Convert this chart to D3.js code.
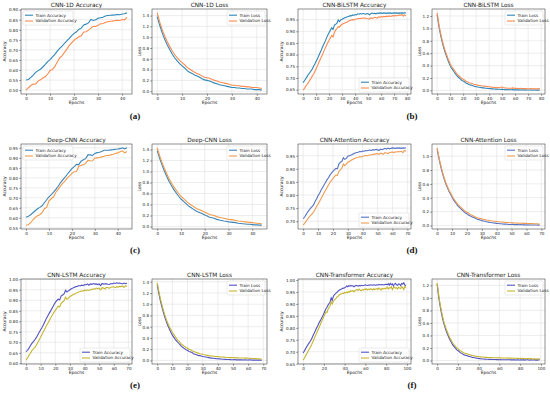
<!DOCTYPE html>
<html><head><meta charset="utf-8">
<script src="https://cdn.jsdelivr.net/npm/d3@7"></script>
<style>body{margin:0;background:#fff}svg{display:block}</style>
</head><body><svg id="c" width="550" height="397"></svg>
<script>
// ---------- DATA ----------
const accTrainA=[0.550,0.553,0.563,0.575,0.588,0.597,0.604,0.615,0.628,0.642,0.652,0.665,0.678,0.694,0.707,0.719,0.733,0.745,0.757,0.771,0.782,0.790,0.803,0.808,0.824,0.828,0.834,0.851,0.846,0.850,0.857,0.860,0.862,0.868,0.871,0.872,0.873,0.874,0.876,0.875,0.878,0.880,0.884];
const accValA=[0.500,0.512,0.523,0.530,0.531,0.545,0.552,0.560,0.566,0.580,0.598,0.602,0.618,0.640,0.660,0.670,0.688,0.704,0.722,0.735,0.748,0.757,0.765,0.770,0.789,0.790,0.798,0.808,0.817,0.816,0.822,0.830,0.831,0.836,0.840,0.842,0.843,0.846,0.847,0.846,0.851,0.849,0.862];
const lossTrainA=[1.38,1.22,1.08,0.96,0.86,0.77,0.69,0.62,0.56,0.51,0.47,0.43,0.38,0.35,0.33,0.30,0.28,0.26,0.23,0.21,0.20,0.19,0.17,0.15,0.14,0.12,0.11,0.10,0.09,0.08,0.07,0.07,0.06,0.06,0.05,0.05,0.04,0.04,0.04,0.03,0.03,0.03,0.02];
const lossValA=[1.45,1.28,1.14,1.02,0.92,0.83,0.75,0.68,0.62,0.57,0.53,0.49,0.44,0.41,0.38,0.35,0.33,0.31,0.28,0.26,0.25,0.24,0.22,0.20,0.19,0.17,0.16,0.15,0.14,0.13,0.11,0.11,0.10,0.10,0.09,0.09,0.08,0.08,0.07,0.07,0.07,0.06,0.05];

const accTrainB=[0.680,0.688,0.697,0.706,0.715,0.722,0.730,0.738,0.750,0.760,0.772,0.782,0.795,0.808,0.820,0.834,0.846,0.858,0.872,0.884,0.895,0.905,0.915,0.908,0.926,0.930,0.935,0.948,0.942,0.950,0.952,0.955,0.958,0.960,0.962,0.963,0.967,0.966,0.970,0.968,0.972,0.970,0.975,0.973,0.976,0.974,0.976,0.975,0.973,0.976,0.975,0.971,0.975,0.978,0.976,0.977,0.975,0.978,0.977,0.979,0.978,0.977,0.979,0.978,0.977,0.979,0.978,0.979,0.977,0.978,0.979,0.978,0.979,0.977,0.979,0.978,0.979,0.978,0.979,0.979];
const accValB=[0.648,0.655,0.665,0.672,0.680,0.690,0.698,0.708,0.716,0.728,0.740,0.752,0.765,0.778,0.790,0.802,0.815,0.828,0.840,0.852,0.862,0.872,0.882,0.876,0.895,0.905,0.912,0.920,0.918,0.926,0.930,0.933,0.936,0.938,0.940,0.944,0.946,0.948,0.950,0.949,0.952,0.953,0.955,0.954,0.956,0.955,0.958,0.956,0.957,0.955,0.954,0.952,0.958,0.955,0.957,0.960,0.958,0.956,0.962,0.960,0.963,0.961,0.964,0.962,0.965,0.963,0.966,0.964,0.965,0.967,0.966,0.968,0.966,0.969,0.970,0.968,0.972,0.965,0.970,0.967];
const lossTrainB=[1.22,1.08,0.96,0.86,0.77,0.69,0.62,0.56,0.50,0.45,0.40,0.36,0.33,0.30,0.27,0.24,0.22,0.20,0.18,0.16,0.15,0.14,0.12,0.11,0.10,0.09,0.085,0.08,0.07,0.065,0.06,0.055,0.05,0.05,0.045,0.04,0.04,0.035,0.035,0.03,0.03,0.028,0.025,0.025,0.022,0.02,0.02,0.018,0.018,0.015,0.02,0.015,0.012,0.012,0.01,0.012,0.01,0.01,0.012,0.008,0.01,0.008,0.01,0.008,0.006,0.008,0.006,0.008,0.005,0.006,0.005,0.006,0.005,0.004,0.006,0.005,0.004,0.005,0.004,0.005];
const lossValB=[1.25,1.11,0.99,0.89,0.80,0.72,0.65,0.59,0.53,0.48,0.43,0.39,0.36,0.33,0.30,0.27,0.25,0.23,0.21,0.19,0.18,0.17,0.15,0.14,0.13,0.12,0.115,0.11,0.10,0.095,0.09,0.085,0.08,0.078,0.075,0.07,0.068,0.065,0.062,0.06,0.058,0.055,0.052,0.05,0.048,0.046,0.045,0.044,0.042,0.05,0.055,0.045,0.04,0.038,0.036,0.035,0.034,0.035,0.04,0.036,0.033,0.032,0.031,0.03,0.032,0.03,0.029,0.028,0.03,0.028,0.027,0.026,0.028,0.026,0.025,0.026,0.024,0.025,0.03,0.025];

const accTrainC=[0.603,0.607,0.615,0.625,0.635,0.645,0.652,0.660,0.675,0.690,0.705,0.716,0.728,0.742,0.758,0.775,0.790,0.803,0.818,0.832,0.846,0.856,0.867,0.866,0.883,0.890,0.896,0.915,0.915,0.912,0.922,0.926,0.928,0.932,0.938,0.938,0.938,0.940,0.941,0.943,0.944,0.946,0.950,0.945,0.950];
const accValC=[0.563,0.565,0.575,0.590,0.602,0.610,0.615,0.625,0.645,0.652,0.685,0.695,0.705,0.728,0.742,0.758,0.772,0.785,0.800,0.810,0.822,0.830,0.832,0.858,0.862,0.866,0.872,0.888,0.884,0.885,0.898,0.900,0.902,0.905,0.908,0.912,0.912,0.915,0.918,0.922,0.925,0.930,0.935,0.925,0.932];
const lossTrainC=[1.38,1.24,1.12,1.01,0.91,0.82,0.74,0.67,0.61,0.55,0.50,0.46,0.42,0.38,0.35,0.32,0.29,0.27,0.25,0.23,0.21,0.19,0.17,0.16,0.15,0.13,0.12,0.11,0.10,0.095,0.085,0.08,0.075,0.07,0.06,0.055,0.05,0.045,0.04,0.04,0.035,0.03,0.03,0.025,0.025];
const lossValC=[1.43,1.29,1.17,1.06,0.96,0.87,0.79,0.72,0.66,0.60,0.55,0.51,0.47,0.43,0.40,0.37,0.34,0.32,0.30,0.28,0.26,0.24,0.22,0.21,0.20,0.18,0.17,0.16,0.15,0.14,0.13,0.125,0.12,0.11,0.10,0.095,0.09,0.085,0.08,0.075,0.07,0.065,0.06,0.055,0.05];

const accTrainD=[0.710,0.716,0.725,0.735,0.742,0.750,0.756,0.762,0.775,0.785,0.797,0.806,0.818,0.828,0.838,0.848,0.858,0.866,0.876,0.884,0.890,0.896,0.902,0.900,0.918,0.925,0.928,0.942,0.936,0.940,0.948,0.950,0.952,0.955,0.958,0.960,0.962,0.963,0.966,0.965,0.968,0.967,0.970,0.969,0.971,0.972,0.970,0.973,0.972,0.974,0.973,0.970,0.975,0.973,0.976,0.978,0.975,0.979,0.977,0.978,0.980,0.979,0.978,0.980,0.979,0.980,0.978,0.980,0.979,0.980];
const accValD=[0.685,0.692,0.700,0.708,0.716,0.722,0.728,0.735,0.745,0.756,0.765,0.775,0.786,0.797,0.808,0.818,0.828,0.838,0.848,0.856,0.862,0.870,0.876,0.874,0.890,0.896,0.902,0.918,0.912,0.918,0.925,0.928,0.932,0.935,0.938,0.940,0.943,0.944,0.946,0.945,0.948,0.949,0.951,0.950,0.952,0.953,0.954,0.955,0.956,0.957,0.958,0.955,0.960,0.958,0.956,0.962,0.960,0.958,0.962,0.963,0.964,0.962,0.965,0.964,0.966,0.965,0.967,0.962,0.970,0.967];
const lossTrainD=[1.10,0.99,0.89,0.80,0.72,0.65,0.59,0.54,0.49,0.45,0.41,0.37,0.34,0.31,0.28,0.26,0.24,0.22,0.20,0.18,0.17,0.15,0.14,0.13,0.12,0.11,0.10,0.09,0.085,0.08,0.07,0.065,0.06,0.055,0.05,0.045,0.042,0.04,0.036,0.034,0.03,0.028,0.026,0.025,0.022,0.02,0.02,0.018,0.016,0.015,0.014,0.016,0.013,0.012,0.012,0.01,0.012,0.01,0.009,0.01,0.008,0.009,0.008,0.007,0.008,0.006,0.007,0.006,0.005,0.006];
const lossValD=[1.12,1.01,0.91,0.82,0.74,0.67,0.61,0.56,0.51,0.47,0.43,0.39,0.36,0.33,0.30,0.28,0.26,0.24,0.22,0.20,0.19,0.18,0.16,0.15,0.14,0.13,0.12,0.11,0.105,0.10,0.095,0.09,0.085,0.08,0.075,0.07,0.068,0.065,0.062,0.06,0.058,0.055,0.052,0.05,0.048,0.046,0.045,0.044,0.042,0.04,0.038,0.04,0.036,0.035,0.034,0.033,0.032,0.034,0.031,0.03,0.03,0.029,0.028,0.027,0.028,0.026,0.025,0.024,0.022,0.02];

const accTrainE=[0.655,0.662,0.672,0.685,0.695,0.703,0.712,0.722,0.735,0.748,0.760,0.772,0.785,0.800,0.815,0.828,0.840,0.852,0.865,0.878,0.890,0.898,0.905,0.902,0.920,0.925,0.930,0.948,0.940,0.945,0.950,0.955,0.958,0.962,0.965,0.966,0.970,0.968,0.972,0.970,0.975,0.973,0.978,0.972,0.978,0.976,0.980,0.977,0.978,0.975,0.978,0.970,0.980,0.977,0.979,0.978,0.976,0.975,0.980,0.978,0.982,0.980,0.983,0.981,0.982,0.980,0.978,0.982,0.979,0.981];
const accValE=[0.615,0.625,0.638,0.648,0.660,0.668,0.676,0.686,0.698,0.712,0.725,0.738,0.752,0.766,0.780,0.792,0.805,0.818,0.830,0.842,0.852,0.862,0.872,0.868,0.886,0.892,0.898,0.915,0.905,0.910,0.918,0.922,0.926,0.930,0.934,0.936,0.940,0.942,0.945,0.943,0.948,0.946,0.950,0.947,0.950,0.952,0.955,0.953,0.958,0.955,0.958,0.950,0.960,0.958,0.955,0.962,0.960,0.958,0.962,0.963,0.964,0.960,0.965,0.963,0.966,0.965,0.967,0.962,0.970,0.966];
const lossTrainE=[1.35,1.20,1.07,0.96,0.86,0.77,0.69,0.62,0.56,0.50,0.45,0.41,0.37,0.34,0.31,0.28,0.25,0.23,0.21,0.19,0.18,0.16,0.15,0.14,0.12,0.11,0.10,0.09,0.085,0.08,0.07,0.065,0.06,0.055,0.05,0.045,0.04,0.038,0.035,0.032,0.03,0.028,0.025,0.022,0.02,0.018,0.016,0.015,0.014,0.012,0.012,0.015,0.01,0.011,0.01,0.009,0.01,0.008,0.009,0.008,0.007,0.009,0.007,0.006,0.008,0.006,0.007,0.005,0.006,0.005];
const lossValE=[1.38,1.24,1.11,1.00,0.90,0.81,0.73,0.66,0.60,0.55,0.50,0.46,0.42,0.38,0.35,0.32,0.29,0.27,0.25,0.23,0.22,0.20,0.19,0.17,0.16,0.15,0.14,0.13,0.12,0.115,0.11,0.10,0.095,0.09,0.085,0.08,0.078,0.075,0.072,0.07,0.068,0.065,0.062,0.06,0.058,0.055,0.053,0.052,0.05,0.05,0.048,0.052,0.046,0.045,0.044,0.043,0.042,0.044,0.041,0.04,0.039,0.038,0.036,0.035,0.034,0.032,0.03,0.028,0.025,0.022];

const accTrainF=[0.695,0.702,0.710,0.718,0.725,0.732,0.738,0.745,0.752,0.762,0.772,0.780,0.790,0.800,0.808,0.818,0.826,0.834,0.842,0.850,0.860,0.870,0.880,0.886,0.895,0.902,0.908,0.925,0.915,0.930,0.938,0.942,0.946,0.950,0.955,0.958,0.960,0.962,0.965,0.966,0.968,0.970,0.975,0.972,0.976,0.974,0.977,0.975,0.976,0.972,0.975,0.978,0.976,0.974,0.977,0.975,0.978,0.976,0.977,0.978,0.980,0.978,0.977,0.979,0.978,0.980,0.979,0.978,0.980,0.979,0.978,0.980,0.979,0.981,0.980,0.979,0.981,0.980,0.979,0.981,0.982,0.980,0.985,0.978,0.986,0.980,0.984,0.975,0.983,0.986,0.980,0.978,0.984,0.982,0.976,0.985,0.983,0.988,0.979,0.976];
const accValF=[0.665,0.672,0.680,0.688,0.696,0.704,0.712,0.720,0.728,0.738,0.748,0.758,0.768,0.778,0.788,0.798,0.808,0.818,0.828,0.838,0.848,0.858,0.866,0.864,0.878,0.886,0.892,0.908,0.900,0.910,0.916,0.920,0.925,0.930,0.934,0.938,0.940,0.942,0.945,0.943,0.948,0.946,0.950,0.947,0.952,0.950,0.955,0.953,0.956,0.950,0.955,0.958,0.960,0.956,0.962,0.958,0.955,0.960,0.958,0.962,0.960,0.963,0.958,0.962,0.960,0.964,0.961,0.958,0.963,0.960,0.962,0.965,0.960,0.966,0.963,0.958,0.965,0.962,0.966,0.963,0.965,0.970,0.962,0.968,0.966,0.972,0.960,0.968,0.970,0.965,0.968,0.962,0.970,0.966,0.964,0.972,0.968,0.960,0.974,0.968];
const lossTrainF=[1.22,1.08,0.96,0.86,0.77,0.69,0.62,0.56,0.51,0.46,0.42,0.38,0.34,0.31,0.28,0.25,0.23,0.21,0.19,0.17,0.16,0.145,0.13,0.12,0.11,0.10,0.09,0.085,0.08,0.075,0.07,0.065,0.06,0.055,0.05,0.047,0.044,0.04,0.038,0.035,0.032,0.03,0.028,0.026,0.025,0.024,0.022,0.02,0.02,0.019,0.018,0.018,0.017,0.016,0.016,0.015,0.015,0.014,0.016,0.014,0.013,0.014,0.013,0.012,0.013,0.012,0.012,0.011,0.012,0.011,0.011,0.010,0.012,0.010,0.011,0.010,0.009,0.011,0.010,0.009,0.010,0.012,0.008,0.014,0.007,0.012,0.009,0.015,0.008,0.006,0.010,0.013,0.008,0.009,0.014,0.007,0.010,0.006,0.012,0.014];
const lossValF=[1.24,1.11,0.99,0.89,0.80,0.72,0.65,0.59,0.54,0.49,0.45,0.41,0.37,0.34,0.31,0.28,0.26,0.24,0.22,0.20,0.19,0.175,0.16,0.15,0.14,0.13,0.12,0.115,0.11,0.105,0.10,0.095,0.09,0.085,0.08,0.077,0.074,0.07,0.068,0.065,0.062,0.06,0.058,0.056,0.055,0.054,0.052,0.05,0.05,0.049,0.048,0.047,0.046,0.046,0.045,0.044,0.044,0.043,0.045,0.042,0.042,0.041,0.042,0.04,0.041,0.04,0.039,0.04,0.038,0.039,0.038,0.037,0.039,0.036,0.037,0.035,0.036,0.034,0.035,0.033,0.034,0.032,0.035,0.030,0.033,0.031,0.029,0.032,0.030,0.028,0.030,0.027,0.029,0.026,0.028,0.025,0.027,0.024,0.026,0.025];

// tick labels
const ticksAccA=[0.50,0.55,0.60,0.65,0.70,0.75,0.80,0.85,0.90];
const ticksAccB=[0.65,0.70,0.75,0.80,0.85,0.90,0.95];
const ticksAccC=[0.55,0.60,0.65,0.70,0.75,0.80,0.85,0.90,0.95];
const ticksAccD=[0.70,0.75,0.80,0.85,0.90,0.95];
const ticksAccE=[0.60,0.65,0.70,0.75,0.80,0.85,0.90,0.95,1.00];
const ticksAccF=[0.65,0.70,0.75,0.80,0.85,0.90,0.95,1.00];
const ticksLoss14=[0.0,0.2,0.4,0.6,0.8,1.0,1.2,1.4];
const ticksLoss12=[0.0,0.2,0.4,0.6,0.8,1.0,1.2];
const ticksLoss10=[0.0,0.2,0.4,0.6,0.8,1.0];
const ticksX40=[0,10,20,30,40];
const ticksX70=[0,10,20,30,40,50,60,70];
const ticksX80=[0,10,20,30,40,50,60,70,80];
const ticksX100=[0,20,40,60,80,100];

const titles=["CNN-1D Accuracy","CNN-1D Loss","CNN-BiLSTM Accuracy","CNN-BiLSTM Loss",
"Deep-CNN Accuracy","Deep-CNN Loss","CNN-Attention Accuracy","CNN-Attention Loss",
"CNN-LSTM Accuracy","CNN-LSTM Loss","CNN-Transformer Accuracy","CNN-Transformer Loss"];
const subLabels=["(a)","(b)","(c)","(d)","(e)","(f)"];

// ---------- LAYOUT ----------
const rowsY=[[9,94],[144,229],[279,364]];
const colsX=[[21,132],[152,267],[298,411],[432,545]];
const pairCenters=[135,412];
const subLabelY=[119,253,388];
const pal={
  a:["#2f86b8","#fb8b4f"], c:["#3c84b8","#f39a48"], d:["#5573c3","#ef9b50"], e:["#5252c2","#c6b52e"]
};

const panels=[
 {t:0,r:0,c:0,tr:accTrainA,va:accValA,yt:ticksAccA,xt:ticksX40,kind:"acc",leg:"ul",col:pal.a},
 {t:1,r:0,c:1,tr:lossTrainA,va:lossValA,yt:ticksLoss14,xt:ticksX40,kind:"loss",leg:"ur",col:pal.a},
 {t:2,r:0,c:2,tr:accTrainB,va:accValB,yt:ticksAccB,xt:ticksX80,kind:"acc",leg:"lr",col:pal.a},
 {t:3,r:0,c:3,tr:lossTrainB,va:lossValB,yt:ticksLoss12,xt:ticksX80,kind:"loss",leg:"ur",col:pal.a},
 {t:4,r:1,c:0,tr:accTrainC,va:accValC,yt:ticksAccC,xt:ticksX40,kind:"acc",leg:"ul",col:pal.c},
 {t:5,r:1,c:1,tr:lossTrainC,va:lossValC,yt:ticksLoss14,xt:ticksX40,kind:"loss",leg:"ur",col:pal.c},
 {t:6,r:1,c:2,tr:accTrainD,va:accValD,yt:ticksAccD,xt:ticksX70,kind:"acc",leg:"lr",col:pal.d},
 {t:7,r:1,c:3,tr:lossTrainD,va:lossValD,yt:ticksLoss10,xt:ticksX70,kind:"loss",leg:"ur",col:pal.d},
 {t:8,r:2,c:0,tr:accTrainE,va:accValE,yt:ticksAccE,xt:ticksX70,kind:"acc",leg:"lr",col:pal.e},
 {t:9,r:2,c:1,tr:lossTrainE,va:lossValE,yt:ticksLoss14,xt:ticksX70,kind:"loss",leg:"ur",col:pal.e},
 {t:10,r:2,c:2,tr:accTrainF,va:accValF,yt:ticksAccF,xt:ticksX100,kind:"acc",leg:"lr",col:pal.e},
 {t:11,r:2,c:3,tr:lossTrainF,va:lossValF,yt:ticksLoss12,xt:ticksX100,kind:"loss",leg:"ur",col:pal.e}
];

const svg=d3.select("#c");
const FONT="DejaVu Sans";

panels.forEach(p=>{
  const [x0,x1]=colsX[p.c], [y0,y1]=rowsY[p.r];
  const n=p.tr.length;
  const xr=n-1, xpad=xr*0.05;
  const all=p.tr.concat(p.va);
  const mn=d3.min(all), mx=d3.max(all), yp=(mx-mn)*0.05;
  const x=d3.scaleLinear().domain([-xpad,xr+xpad]).range([x0,x1]);
  const y=d3.scaleLinear().domain([mn-yp,mx+yp]).range([y1,y0]);
  const g=svg.append("g");
  // grid
  g.append("g").selectAll("line").data(p.xt.filter(v=>x(v)>=x0&&x(v)<=x1)).join("line")
    .attr("x1",d=>x(d)).attr("x2",d=>x(d)).attr("y1",y0).attr("y2",y1)
    .attr("stroke","#e0e0e0").attr("stroke-width",0.6);
  g.append("g").selectAll("line").data(p.yt).join("line")
    .attr("x1",x0).attr("x2",x1).attr("y1",d=>y(d)).attr("y2",d=>y(d))
    .attr("stroke","#e0e0e0").attr("stroke-width",0.6);
  // axes
  const fmtY=p.kind==="acc"?d3.format(".2f"):d3.format(".1f");
  const ax=g.append("g").attr("transform",`translate(0,${y1})`)
    .call(d3.axisBottom(x).tickValues(p.xt.filter(v=>x(v)<=x1+0.5)).tickSize(1.8).tickPadding(1.2).tickFormat(d3.format("d")));
  const ay=g.append("g").attr("transform",`translate(${x0},0)`)
    .call(d3.axisLeft(y).tickValues(p.yt).tickSize(1.8).tickPadding(1.2).tickFormat(fmtY));
  [ax,ay].forEach(a=>{a.select(".domain").remove();
    a.selectAll("line").attr("stroke","#333").attr("stroke-width",0.5);
    a.selectAll("text").attr("font-family",FONT).attr("font-size",4.1).attr("fill","#222");});
  // lines
  const line=d3.line().x((d,i)=>x(i)).y(d=>y(d));
  g.append("path").datum(p.tr).attr("d",line).attr("fill","none").attr("stroke",p.col[0]).attr("stroke-width",1.1);
  g.append("path").datum(p.va).attr("d",line).attr("fill","none").attr("stroke",p.col[1]).attr("stroke-width",1.1);
  // frame
  g.append("rect").attr("x",x0).attr("y",y0).attr("width",x1-x0).attr("height",y1-y0)
    .attr("fill","none").attr("stroke","#222").attr("stroke-width",0.5);
  // title & labels
  g.append("text").attr("x",(x0+x1)/2).attr("y",y0-2).attr("text-anchor","middle")
    .attr("font-family",FONT).attr("font-size",5.8).attr("fill","#222").text(titles[p.t]);
  g.append("text").attr("x",(x0+x1)/2).attr("y",y1+9.5).attr("text-anchor","middle")
    .attr("font-family",FONT).attr("font-size",4.4).attr("fill","#222").text("Epochs");
  const lblX=x0-(p.kind==="acc"?15:11.5);
  g.append("text").attr("transform",`translate(${lblX},${(y0+y1)/2}) rotate(-90)`).attr("text-anchor","middle")
    .attr("font-family",FONT).attr("font-size",4.4).attr("fill","#222").text(p.kind==="acc"?"Accuracy":"Loss");
  // legend
  const names=p.kind==="acc"?["Train Accuracy","Validation Accuracy"]:["Train Loss","Validation Loss"];
  const lw=p.kind==="acc"?50:38, lh=14;
  let lx,ly;
  if(p.leg==="ul"){lx=x0+2;ly=y0+2;}
  else if(p.leg==="ur"){lx=x1-2-lw;ly=y0+2;}
  else {lx=x1-2-lw;ly=y1-2-lh;}
  const lg=g.append("g").attr("transform",`translate(${lx},${ly})`);
  lg.append("rect").attr("width",lw).attr("height",lh).attr("rx",1.2)
    .attr("fill","#fff").attr("fill-opacity",0.85).attr("stroke","#d6d6d6").attr("stroke-width",0.5);
  names.forEach((nm,i)=>{
    const yy=4.2+i*5.8;
    lg.append("line").attr("x1",2).attr("x2",10).attr("y1",yy).attr("y2",yy)
      .attr("stroke",p.col[i]).attr("stroke-width",1.1);
    lg.append("text").attr("x",12.5).attr("y",yy+1.4).attr("font-family",FONT).attr("font-size",4.2)
      .attr("fill","#222").text(nm);
  });
});

subLabels.forEach((s,i)=>{
  svg.append("text").attr("x",pairCenters[i%2]).attr("y",subLabelY[Math.floor(i/2)])
    .attr("text-anchor","middle").attr("font-family","Liberation Serif").attr("font-size",9)
    .attr("font-weight","bold").attr("fill","#111").text(s);
});
</script></body></html>
